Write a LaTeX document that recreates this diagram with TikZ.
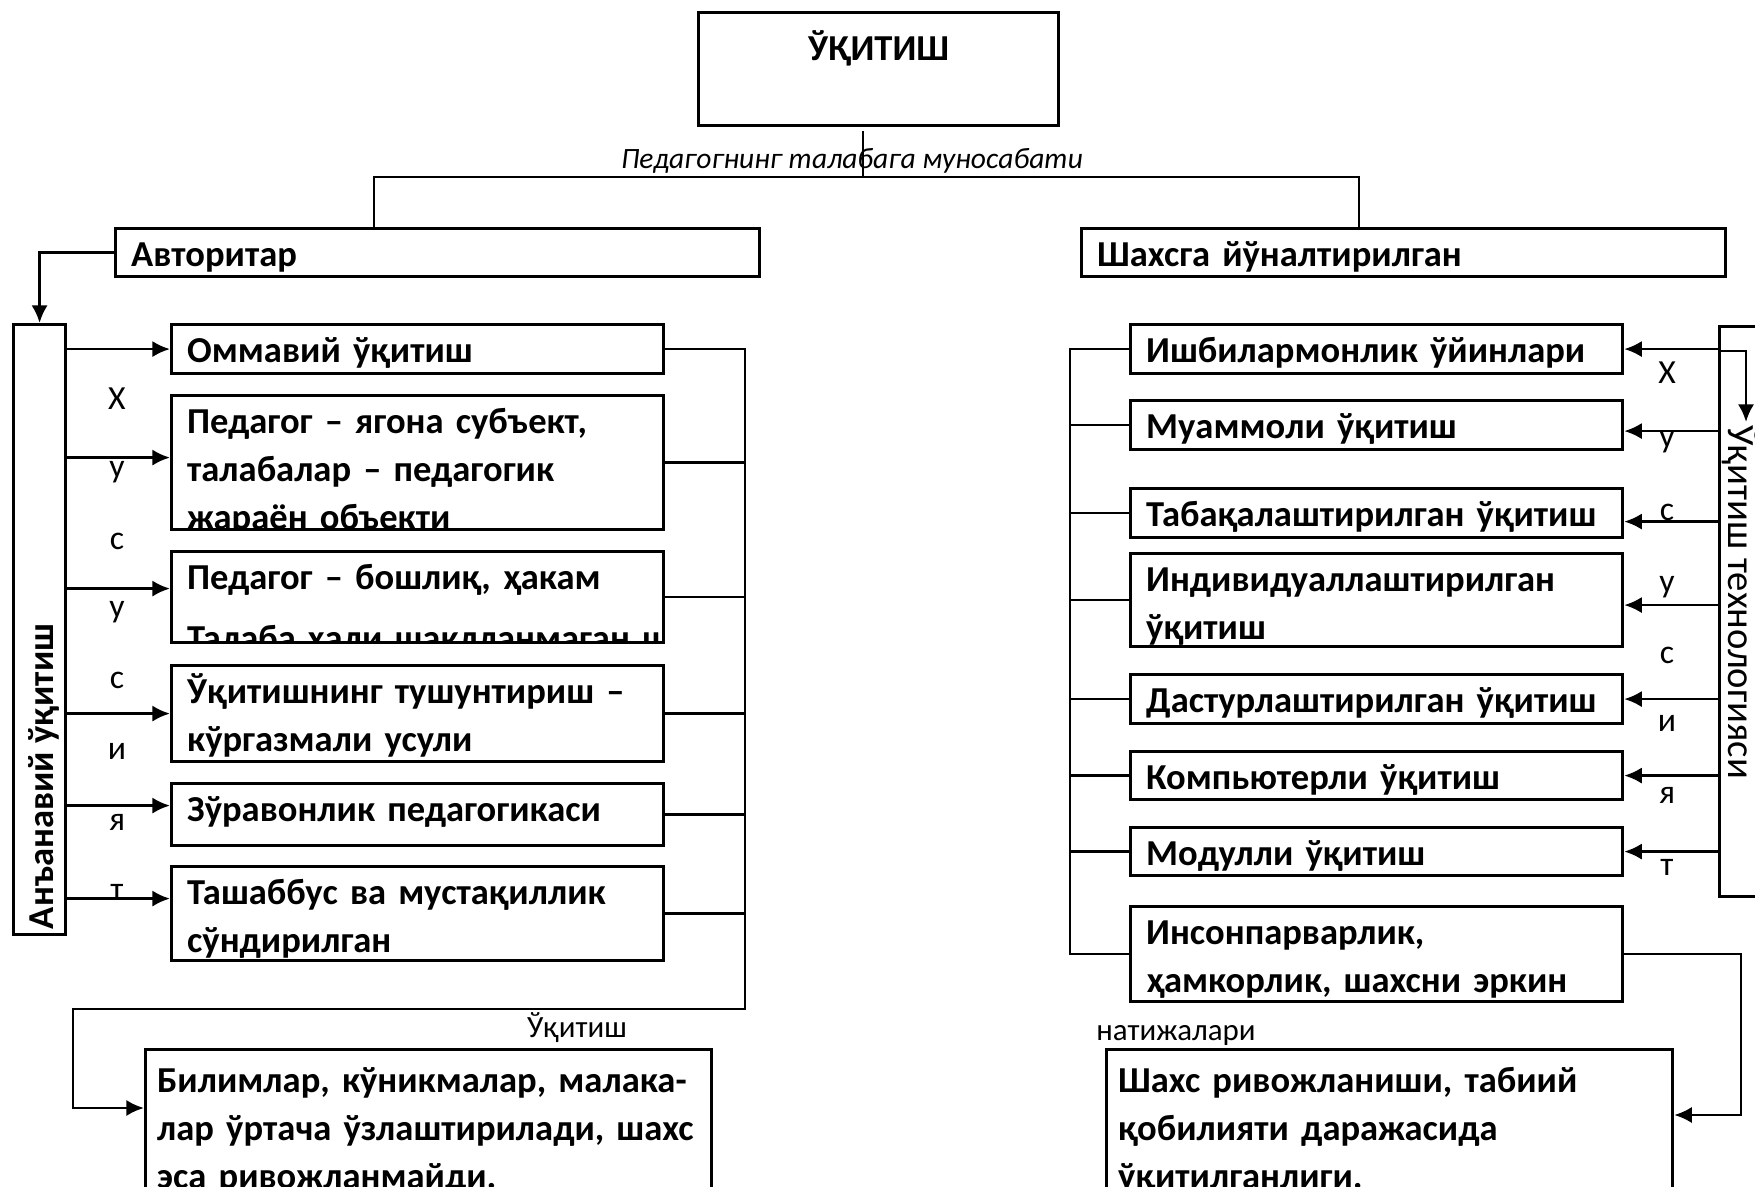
\documentclass[tikz,border=0pt]{standalone}
\usepackage{fontspec}
\setmainfont{Carlito}
\usetikzlibrary{calc,arrows.meta}

\newcommand\bxfont{\fontsize{10.4}{13.7}\selectfont\bfseries}
\newcommand\lblfont{\fontsize{8.8}{10}\selectfont}
\newcommand\ltfont{\fontsize{9.6}{11}\selectfont}
\newcommand\itfont{\fontsize{8.4}{10}\selectfont\itshape}
\newcommand\techfont{\fontsize{11}{13}\selectfont}

\begin{document}
\begin{tikzpicture}
\tikzstyle{line}=[line width=0.8pt]
\tikzstyle{arr}=[line width=0.8pt,-{Latex[length=5pt,width=4.6pt]}]
\tikzstyle{box}=[draw,line width=0.9pt,fill=white,anchor=north west,inner sep=0pt]
\tikzstyle{bxtext}=[anchor=base west,inner sep=0pt,minimum size=0pt,draw=none,text width=8cm,align=left,font=\bxfont]
\tikzstyle{letter}=[font=\ltfont,inner sep=0pt]
\tikzset{
  txtbox/.style={box,path picture={\node[bxtext] at ([xshift=1.4mm,yshift=-3.8mm]path picture bounding box.north west) {#1};}},
  resbox/.style={box,path picture={\node[bxtext] at ([xshift=1mm,yshift=-4.3mm]path picture bounding box.north west) {#1};}}
}
\useasboundingbox (0,0) rectangle (17.55,-11.87);
\clip (0,0) rectangle (17.55,-11.87);

% top
\node[box,minimum width=3.6cm,minimum height=1.13cm,text height=0.48cm,text depth=0.65cm,font=\bxfont] (top) at (6.97,-0.11) {ЎҚИТИШ};
\node[font=\itfont,anchor=base] (rel) at (8.52,-1.69) {Педагогнинг талабага муносабати};
\node[txtbox={Авторитар},minimum width=6.44cm,minimum height=0.48cm] (avt) at (1.14,-2.27) {};
\node[txtbox={Шахсга йўналтирилган},minimum width=6.44cm,minimum height=0.48cm] (shx) at (10.80,-2.27) {};

\coordinate (jt) at (8.63,-1.77);
\coordinate (jl) at (3.74,-1.77);
\coordinate (jr) at (13.59,-1.77);
\draw[line] ([yshift=-0.4mm]top.south -| jt) -- (jt);
\draw[line] (avt.north -| jl) -- (jl) -- (jr) -- (shx.north -| jr);

% left side
\node[box,minimum width=0.52cm,minimum height=6.10cm,
  path picture={\node[rotate=90,anchor=base west,inner sep=0pt,font=\bxfont] at ([xshift=-1.2mm,yshift=0.4mm]path picture bounding box.south east) {Анъанавий ўқитиш};}] (anan) at (0.12,-3.23) {};
\node[txtbox={Оммавий ўқитиш},minimum width=4.92cm,minimum height=0.49cm] (L1) at (1.70,-3.23) {};
\node[txtbox={Педагог – ягона субъект,\\ талабалар – педагогик\\ жараён объекти},minimum width=4.92cm,minimum height=1.34cm] (L2) at (1.70,-3.94) {};
\node[txtbox={Педагог – бошлиқ, ҳакам\\[3.7pt] Талаба хали шаклланмаган шахс},minimum width=4.92cm,minimum height=0.91cm] (L3) at (1.70,-5.50) {};
\node[txtbox={Ўқитишнинг тушунтириш –\\ кўргазмали усули},minimum width=4.92cm,minimum height=0.96cm] (L4) at (1.70,-6.64) {};
\node[txtbox={Зўравонлик педагогикаси},minimum width=4.92cm,minimum height=0.62cm] (L5) at (1.70,-7.82) {};
\node[txtbox={Ташаббус ва мустақиллик\\ сўндирилган},minimum width=4.92cm,minimum height=0.94cm] (L6) at (1.70,-8.65) {};
\node[resbox={Билимлар, кўникмалар, малака-\\ лар ўртача ўзлаштирилади, шахс\\ эса ривожланмайди.},minimum width=5.66cm,minimum height=1.6cm] (resL) at (1.44,-10.48) {};
\node[font=\lblfont,anchor=base] (resl) at (5.77,-10.37) {Ўқитиш};

\draw[arr] (avt.west) -| (anan.north);
\foreach \n/\dy in {1/0mm,2/0.5mm,3/0.85mm,4/0mm,5/0.9mm,6/1.5mm}{
  \path ([yshift=\dy]L\n.west) coordinate (p\n);
  \draw[arr] (anan.east |- p\n) -- (p\n);
}
\foreach \ch/\yy [count=\i] in {Х/3.99,у/4.72,с/5.41,у/6.12,с/6.80,и/7.51,я/8.22,т/8.92}
  \node[letter] (hl\i) at (1.17,-\yy) {\ch};

\coordinate (cl) at (7.45,-10.09);
\coordinate (cb) at (0.73,-11.08);
\draw[arr] (L1.east) -| (cl) -| (cb) -- (cb -| resL.west);
\foreach \n in {2,...,6}
  \draw[line] (L\n.east) -- (L\n.east -| cl);

% right side
\node[box,minimum width=0.60cm,minimum height=5.70cm,
  path picture={\node[rotate=-90,anchor=base west,inner sep=0pt,font=\techfont] at ([xshift=0.9mm,yshift=-9.7mm]path picture bounding box.north west) {Ўқитиш технологияси};}] (tech) at (17.18,-3.25) {};
\node[txtbox={Ишбилармонлик ўйинлари},minimum width=4.92cm,minimum height=0.49cm] (R1) at (11.29,-3.23) {};
\node[txtbox={Муаммоли ўқитиш},minimum width=4.92cm,minimum height=0.49cm] (R2) at (11.29,-3.99) {};
\node[txtbox={Табақалаштирилган ўқитиш},minimum width=4.92cm,minimum height=0.49cm] (R3) at (11.29,-4.87) {};
\node[txtbox={Индивидуаллаштирилган\\ ўқитиш},minimum width=4.92cm,minimum height=0.93cm] (R4) at (11.29,-5.52) {};
\node[txtbox={Дастурлаштирилган ўқитиш},minimum width=4.92cm,minimum height=0.49cm] (R5) at (11.29,-6.73) {};
\node[txtbox={Компьютерли ўқитиш},minimum width=4.92cm,minimum height=0.48cm] (R6) at (11.29,-7.50) {};
\node[txtbox={Модулли ўқитиш},minimum width=4.92cm,minimum height=0.48cm] (R7) at (11.29,-8.26) {};
\node[txtbox={Инсонпарварлик,\\ ҳамкорлик, шахсни эркин},minimum width=4.92cm,minimum height=0.95cm] (R8) at (11.29,-9.05) {};
\node[resbox={Шахс ривожланиши, табиий\\ қобилияти даражасида\\ ўқитилганлиги.},minimum width=5.66cm,minimum height=1.6cm] (resR) at (11.05,-10.48) {};
\node[font=\lblfont,anchor=base] (resr) at (11.76,-10.40) {натижалари};

\coordinate (rc) at (10.70,-6);
\draw[line] (R1.west) -- (R1.west -| rc) -- (R8.west -| rc) -- (R8.west);
\foreach \n in {2,...,7}
  \draw[line] (R\n.west -| rc) -- (R\n.west);
\foreach \n/\dy in {1/0mm,2/-0.6mm,3/-0.85mm,4/-0.5mm,5/0mm,6/0mm,7/0mm}{
  \path ([yshift=\dy]R\n.east) coordinate (q\n);
  \draw[arr] (tech.west |- q\n) -- (q\n);
}
\foreach \ch/\yy [count=\i] in {Х/3.73,у/4.42,с/5.12,у/5.87,с/6.55,и/7.23,я/7.95,т/8.67}
  \node[letter] (hr\i) at (16.67,-\yy) {\ch};

\coordinate (tk) at (17.46,-3.51);
\coordinate (tk2) at (17.46,-4.22);
\draw[arr] (tech.west |- tk) -- (tk) -- (tk2);

\coordinate (cr) at (17.41,-11.15);
\draw[arr] (R8.east) -| (cr) -- (cr -| resR.east);
\end{tikzpicture}
\end{document}
